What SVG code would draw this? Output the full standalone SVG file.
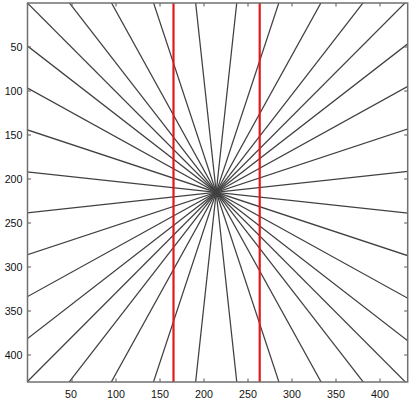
<svg xmlns="http://www.w3.org/2000/svg" width="415" height="405" viewBox="0 0 415 405">
<style>
.ray{stroke:#404040;stroke-width:1.25;fill:none}
.red{stroke:#e01a1a;stroke-width:2.2;fill:none}
.frame{fill:none;stroke:#707070;stroke-width:1.5}
.tick{stroke:#707070;stroke-width:1.2}
.lbl{font-family:"Liberation Sans",Arial,sans-serif;font-size:10.7px;fill:#111}
</style>
<defs>
<clipPath id="plot"><rect x="27.5" y="3" width="380.2" height="379"/></clipPath>
</defs>
<rect width="415" height="405" fill="#fff"/>
<g id="rays" clip-path="url(#plot)">
<line class="ray" x1="23.93" y1="-0.48" x2="408.47" y2="385.08"/>
<line class="ray" x1="66.77" y1="-0.48" x2="365.63" y2="385.08"/>
<line class="ray" x1="109.61" y1="-0.48" x2="322.79" y2="385.08"/>
<line class="ray" x1="152.45" y1="-0.48" x2="279.95" y2="385.08"/>
<line class="ray" x1="195.29" y1="-0.48" x2="237.11" y2="385.08"/>
<line class="ray" x1="237.11" y1="-0.48" x2="195.29" y2="385.08"/>
<line class="ray" x1="279.95" y1="-0.48" x2="152.45" y2="385.08"/>
<line class="ray" x1="322.79" y1="-0.48" x2="109.61" y2="385.08"/>
<line class="ray" x1="365.63" y1="-0.48" x2="66.77" y2="385.08"/>
<line class="ray" x1="408.47" y1="-0.48" x2="23.93" y2="385.08"/>
<line class="ray" x1="23.42" y1="341.73" x2="408.98" y2="42.87"/>
<line class="ray" x1="23.42" y1="298.89" x2="408.98" y2="85.71"/>
<line class="ray" x1="23.42" y1="256.05" x2="408.98" y2="128.55"/>
<line class="ray" x1="23.42" y1="213.21" x2="408.98" y2="171.39"/>
<line class="ray" x1="23.42" y1="171.39" x2="408.98" y2="213.21"/>
<line class="ray" x1="23.42" y1="128.55" x2="408.98" y2="256.05"/>
<line class="ray" x1="23.42" y1="85.71" x2="408.98" y2="298.89"/>
<line class="ray" x1="23.42" y1="42.87" x2="408.98" y2="341.73"/>
</g>
<g id="red-lines">
<line class="red" x1="173.5" y1="3" x2="173.5" y2="382"/>
<line class="red" x1="259.7" y1="3" x2="259.7" y2="382"/>
</g>
<g id="axes">
<rect class="frame" x="27.5" y="3" width="380.2" height="379"/>
<g class="tick">
<line x1="72" y1="382" x2="72" y2="378.5"/><line x1="116" y1="382" x2="116" y2="378.5"/><line x1="160" y1="382" x2="160" y2="378.5"/><line x1="204" y1="382" x2="204" y2="378.5"/><line x1="248" y1="382" x2="248" y2="378.5"/><line x1="292" y1="382" x2="292" y2="378.5"/><line x1="336" y1="382" x2="336" y2="378.5"/><line x1="380" y1="382" x2="380" y2="378.5"/>
<line x1="72" y1="3" x2="72" y2="6.5"/><line x1="116" y1="3" x2="116" y2="6.5"/><line x1="160" y1="3" x2="160" y2="6.5"/><line x1="204" y1="3" x2="204" y2="6.5"/><line x1="248" y1="3" x2="248" y2="6.5"/><line x1="292" y1="3" x2="292" y2="6.5"/><line x1="336" y1="3" x2="336" y2="6.5"/><line x1="380" y1="3" x2="380" y2="6.5"/>
<line x1="27.5" y1="47" x2="31" y2="47"/><line x1="27.5" y1="91" x2="31" y2="91"/><line x1="27.5" y1="135" x2="31" y2="135"/><line x1="27.5" y1="179" x2="31" y2="179"/><line x1="27.5" y1="223" x2="31" y2="223"/><line x1="27.5" y1="267" x2="31" y2="267"/><line x1="27.5" y1="311" x2="31" y2="311"/><line x1="27.5" y1="355" x2="31" y2="355"/>
<line x1="407.7" y1="47" x2="404.2" y2="47"/><line x1="407.7" y1="91" x2="404.2" y2="91"/><line x1="407.7" y1="135" x2="404.2" y2="135"/><line x1="407.7" y1="179" x2="404.2" y2="179"/><line x1="407.7" y1="223" x2="404.2" y2="223"/><line x1="407.7" y1="267" x2="404.2" y2="267"/><line x1="407.7" y1="311" x2="404.2" y2="311"/><line x1="407.7" y1="355" x2="404.2" y2="355"/>
</g>
<g class="lbl" text-anchor="end">
<text x="22.5" y="50.8">50</text>
<text x="22.5" y="94.8">100</text>
<text x="22.5" y="138.8">150</text>
<text x="22.5" y="182.8">200</text>
<text x="22.5" y="226.8">250</text>
<text x="22.5" y="270.8">300</text>
<text x="22.5" y="314.8">350</text>
<text x="22.5" y="358.8">400</text>
</g>
<g class="lbl" text-anchor="middle">
<text x="71" y="398.3">50</text>
<text x="116" y="398.3">100</text>
<text x="160" y="398.3">150</text>
<text x="204" y="398.3">200</text>
<text x="248" y="398.3">250</text>
<text x="292" y="398.3">300</text>
<text x="336" y="398.3">350</text>
<text x="380" y="398.3">400</text>
</g>
</g>
</svg>
